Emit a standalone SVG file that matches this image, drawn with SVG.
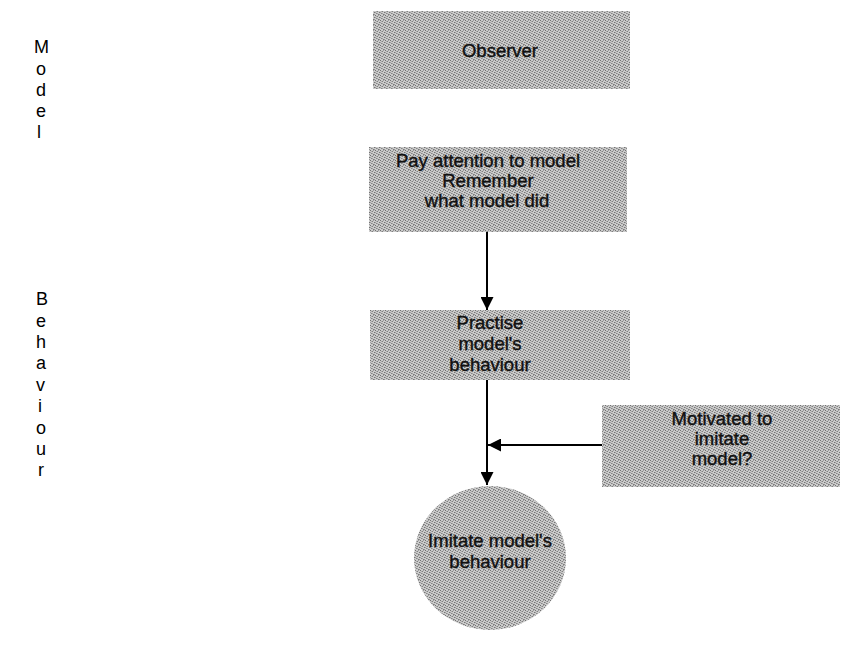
<svg xmlns="http://www.w3.org/2000/svg" width="842" height="652" viewBox="0 0 842 652">
<style>
.lbl{font-family:"Liberation Sans",Arial,sans-serif;font-size:18.5px;fill:#111;text-anchor:middle;stroke:#111;stroke-width:0.4}
.side{font-family:"Liberation Sans",Arial,sans-serif;font-size:18px;fill:#000}
.node{fill:url(#grain)}
.conn{stroke:#000;stroke-width:2;fill:none}
</style>
<defs>
<pattern id="grain" width="5" height="5" patternUnits="userSpaceOnUse">
<rect width="5" height="5" fill="#cbcbcb"/>
<rect x="0" y="0" width="1" height="1" fill="#707070"/>
<rect x="2" y="1" width="1" height="1" fill="#808080"/>
<rect x="4" y="2" width="1" height="1" fill="#747474"/>
<rect x="1" y="3" width="1" height="1" fill="#858585"/>
<rect x="3" y="4" width="1" height="1" fill="#7a7a7a"/>
<rect x="3" y="0" width="1" height="1" fill="#9a9a9a"/>
<rect x="0" y="2" width="1" height="1" fill="#a0a0a0"/>
<rect x="4" y="4" width="1" height="1" fill="#959595"/>
<rect x="2" y="3" width="1" height="1" fill="#a2a2a2"/>
<rect x="1" y="1" width="1" height="1" fill="#aaaaaa"/>
</pattern>
<marker id="ah" viewBox="0 0 10 10" refX="10" refY="5" markerWidth="6.5" markerHeight="6.5" orient="auto-start-reverse" markerUnits="strokeWidth">
<path d="M0,0 L10,5 L0,10 z" fill="#000"/>
</marker>
</defs>
<g id="side-labels">
<text class="side" x="34" y="53">M</text>
<text class="side" x="36" y="75">o</text>
<text class="side" x="36" y="96">d</text>
<text class="side" x="36" y="117">e</text>
<text class="side" x="37" y="138">l</text>
<text class="side" x="36" y="305">B</text>
<text class="side" x="36" y="327">e</text>
<text class="side" x="36" y="348">h</text>
<text class="side" x="36" y="369">a</text>
<text class="side" x="36" y="391">v</text>
<text class="side" x="38" y="412">i</text>
<text class="side" x="36" y="434">o</text>
<text class="side" x="36" y="455">u</text>
<text class="side" x="38" y="476">r</text>
</g>
<g id="connectors">
<line class="conn" x1="487" y1="232" x2="487" y2="310" marker-end="url(#ah)"/>
<line class="conn" x1="487" y1="380" x2="487" y2="485" marker-end="url(#ah)"/>
<line class="conn" x1="602" y1="445" x2="488" y2="445" marker-end="url(#ah)"/>
</g>
<g id="observer">
<rect class="node" x="373" y="11" width="257" height="78"/>
<text class="lbl" x="500" y="57">Observer</text>
</g>
<g id="attention">
<rect class="node" x="369" y="147" width="258" height="85"/>
<text class="lbl" x="488" y="167">Pay attention to model</text>
<text class="lbl" x="488" y="187">Remember</text>
<text class="lbl" x="487" y="207">what model did</text>
</g>
<g id="practise">
<rect class="node" x="370" y="310" width="260" height="70"/>
<text class="lbl" x="490" y="329">Practise</text>
<text class="lbl" x="490" y="350">model's</text>
<text class="lbl" x="490" y="371">behaviour</text>
</g>
<g id="motivated">
<rect class="node" x="602" y="405" width="238" height="82"/>
<text class="lbl" x="722" y="425">Motivated to</text>
<text class="lbl" x="722" y="445">imitate</text>
<text class="lbl" x="722" y="465">model?</text>
</g>
<g id="imitate">
<ellipse class="node" cx="490" cy="558" rx="76" ry="72"/>
<text class="lbl" x="490" y="547">Imitate model's</text>
<text class="lbl" x="490" y="568">behaviour</text>
</g>
</svg>
